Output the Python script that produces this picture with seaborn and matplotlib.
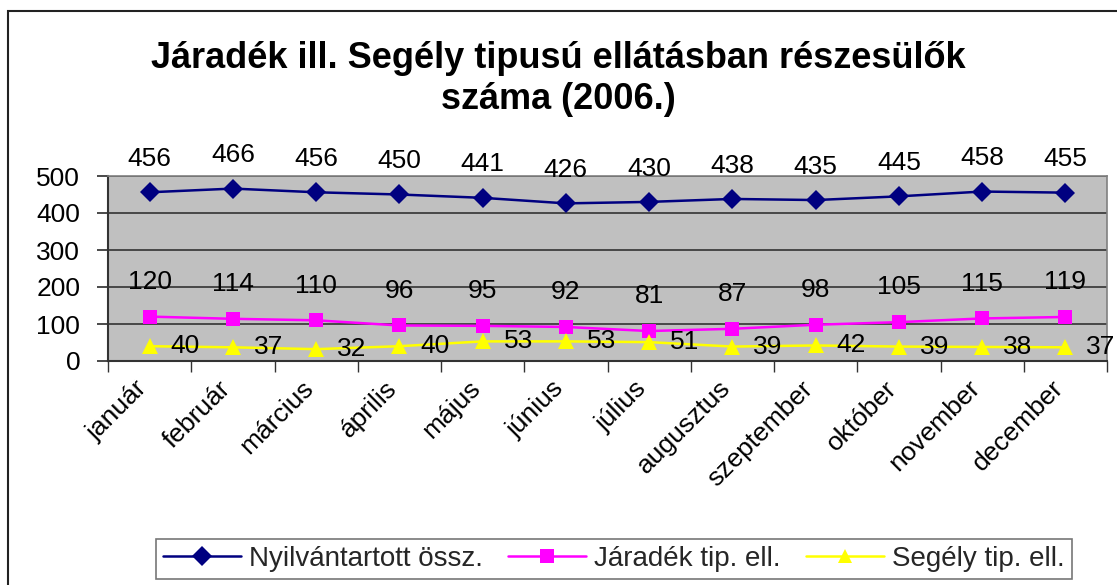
import pandas as pd
import matplotlib.pyplot as plt
import matplotlib.transforms as mtransforms
from matplotlib.patches import Rectangle
from matplotlib.ticker import MultipleLocator
import seaborn as sns

# adatok
honapok = ["január", "február", "március", "április", "május", "június",
           "július", "augusztus", "szeptember", "október", "november", "december"]
nyilvantartott = [456, 466, 456, 450, 441, 426, 430, 438, 435, 445, 458, 455]
jaradek = [120, 114, 110, 96, 95, 92, 81, 87, 98, 105, 115, 119]
segely = [40, 37, 32, 40, 53, 53, 51, 39, 42, 39, 38, 37]
sorozatok = ["Nyilvántartott össz.", "Járadék tip. ell.", "Segély tip. ell."]

df = pd.DataFrame({
    "honap_idx": list(range(12)) * 3,
    "ertek": nyilvantartott + jaradek + segely,
    "sorozat": [s for s in sorozatok for _ in range(12)],
})

szinek = {sorozatok[0]: "#000080", sorozatok[1]: "#FF00FF", sorozatok[2]: "#FFFF00"}
jelolok = {sorozatok[0]: "D", sorozatok[1]: "s", sorozatok[2]: "^"}
meretek = {"#000080": 10, "#FF00FF": 10, "#FFFF00": 12}

sns.set_theme(style="white")
plt.rcParams["font.family"] = ["Liberation Sans", "DejaVu Sans"]

fig = plt.figure(figsize=(11.17, 5.85), dpi=100)
ax = fig.add_axes([108 / 1117, 1 - 361 / 585, 999 / 1117, 185 / 585])
ax.set_facecolor("#C0C0C0")

sns.lineplot(data=df, x="honap_idx", y="ertek", hue="sorozat", style="sorozat",
             palette=szinek, markers=jelolok, dashes=False, markersize=10,
             markeredgewidth=0, linewidth=1.8, ax=ax, legend=True, zorder=3)
for ln in ax.lines:
    c = plt.matplotlib.colors.to_hex(ln.get_color()).upper()
    if c in meretek:
        ln.set_markersize(meretek[c])

ax.set_xlim(-0.5, 11.5)
ax.set_ylim(0, 500)
ax.yaxis.set_major_locator(MultipleLocator(100))
ax.grid(axis="y", color="#333333", linewidth=1.2, zorder=0)
ax.set_axisbelow(True)
ax.set_xlabel("")
ax.set_ylabel("")

# x tengely: osztasok a kategoriak hataran, feliratok kozepen
ax.set_xticks([i + 0.5 for i in range(-1, 12)])
ax.set_xticklabels([])
ax.tick_params(axis="x", which="major", direction="out", length=8, width=1,
               color="#333333", bottom=True)
ax.set_xticks(range(12), minor=True)
ax.set_xticklabels(honapok, minor=True, rotation=45, ha="right", va="center",
                   rotation_mode="anchor", fontsize=19, color="black")
ax.tick_params(axis="x", which="minor", length=0, pad=17)
offset = mtransforms.ScaledTranslation(-6 / 100, 0, fig.dpi_scale_trans)
for lbl in ax.get_xticklabels(minor=True):
    lbl.set_transform(lbl.get_transform() + offset)

ax.tick_params(axis="y", labelsize=19, length=8, direction="out", left=True,
               color="#333333", pad=12, labelcolor="black")

for side in ["left", "bottom"]:
    ax.spines[side].set_color("#333333")
    ax.spines[side].set_linewidth(1.5)
for side in ["top", "right"]:
    ax.spines[side].set_color("#808080")
    ax.spines[side].set_linewidth(1.2)

# adatfeliratok
for i, v in enumerate(nyilvantartott):
    ax.annotate(str(v), (i, v), xytext=(0, 24), textcoords="offset points",
                ha="center", va="center", fontsize=19, color="black",
                annotation_clip=False)
for i, v in enumerate(jaradek):
    ax.annotate(str(v), (i, v), xytext=(0, 25), textcoords="offset points",
                ha="center", va="center", fontsize=19, color="black")
for i, v in enumerate(segely):
    ax.annotate(str(v), (i, v), xytext=(15, 0), textcoords="offset points",
                ha="left", va="center", fontsize=19, color="black",
                annotation_clip=False)

# cim
fig.text(0.5, 1 - 79 / 585, "Járadék ill. Segély tipusú ellátásban részesülők\nszáma (2006.)",
         ha="center", va="center", fontsize=26, fontweight="bold", linespacing=1.25,
         color="black")

# jelmagyarazat
leg = ax.legend(loc="center", bbox_to_anchor=(614 / 1117, 1 - 559 / 585),
                bbox_transform=fig.transFigure, ncol=3, fontsize=20, frameon=True,
                fancybox=False, edgecolor="#555555", handlelength=2.8,
                columnspacing=0.9, handletextpad=0.3, borderpad=0.25,
                borderaxespad=0, title=None)
leg.get_frame().set_linewidth(1.2)
for h in leg.legend_handles:
    h.set_markersize(10)

# kulso keret
fig.patches.append(Rectangle((8 / 1117, -0.05), 1.1, 1 - 11 / 585 + 0.05,
                             transform=fig.transFigure, fill=False,
                             edgecolor="#222222", linewidth=1.5))

fig.savefig("out.png", dpi=100)
